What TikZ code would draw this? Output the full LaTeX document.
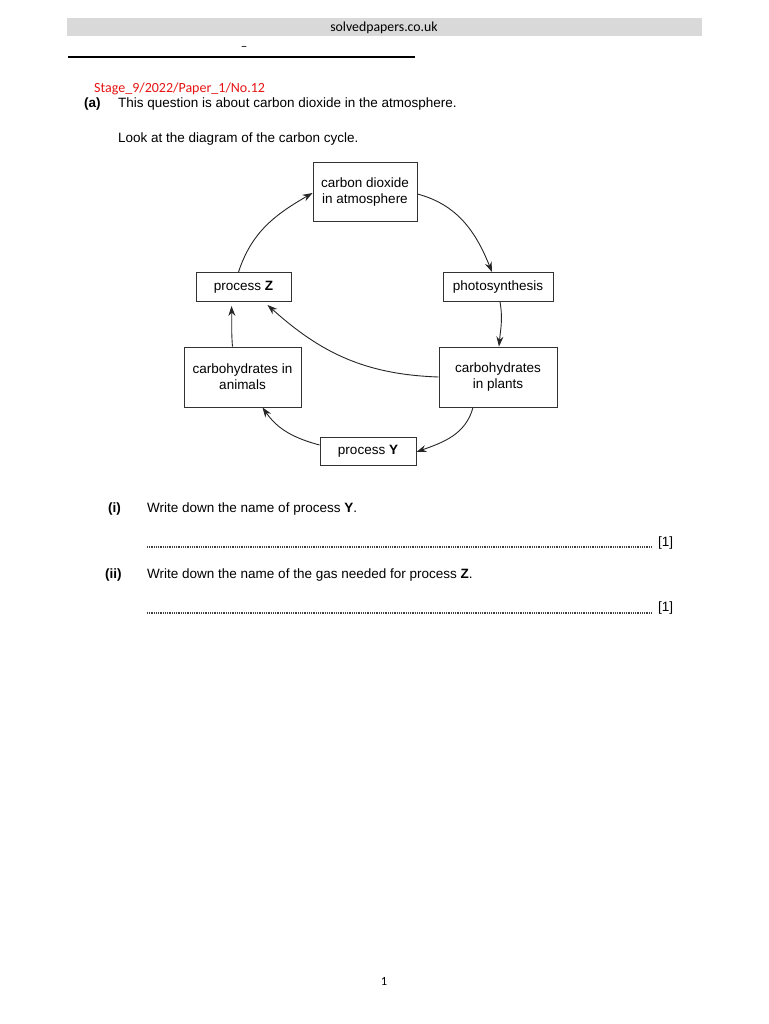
\documentclass[tikz,border=0pt]{standalone}
\usepackage{fontspec}
\setmainfont{Liberation Sans}
\newfontfamily\calibri{Carlito}
\usetikzlibrary{arrows.meta}
\definecolor{headgray}{RGB}{217,217,217}
\definecolor{boxline}{RGB}{50,50,50}
\begin{document}
\begin{tikzpicture}
		[x=1pt,y=-1pt,
		cyclebox/.style={draw=boxline,line width=0.9pt,align=center,
			inner sep=0pt,font=\fontsize{13.5}{16}\selectfont},
		cyclearrow/.style={draw=black!85,line width=0.9pt,
			-{Stealth[length=10pt,width=7pt]}},
		qtext/.style={anchor=base west,inner sep=0pt,
			font=\fontsize{13.5}{16}\selectfont},
		answerline/.style={line width=1.2pt,black!75,
			dash pattern=on 0.9pt off 0.9pt}]
		\useasboundingbox (0,0) rectangle (768,1024);
		\fill[white] (0,0) rectangle (768,1024);
		% header
		\fill[headgray] (67,18) rectangle (702,36);
		\node[anchor=base,inner sep=0pt,font=\calibri\fontsize{13.8}{15}\selectfont]
			(site) at (384,32) {solvedpapers.co.uk};
		\node[anchor=base,inner sep=0pt,font=\calibri\fontsize{13}{15}\selectfont]
			(dash) at (244,51) {\textendash};
		\draw[line width=1.8pt] (68,57) -- (415,57);
		\node[qtext,font=\calibri\fontsize{14}{16}\selectfont,text={rgb,255:red,230;green,20;blue,20}]
			(ref) at (94,93) {Stage\_9/2022/Paper\_1/No.12};
		% question text
		\node[qtext,font=\bfseries\fontsize{13.5}{16}\selectfont] (parta) at (84,108) {(a)};
		\node[qtext] (intro) at (118,108) {This question is about carbon dioxide in the atmosphere.};
		\node[qtext] (look) at (118,143) {Look at the diagram of the carbon cycle.};
		% carbon cycle
		\node[cyclebox,minimum width=104pt,minimum height=59pt] (co2) at (365,192)
			{carbon dioxide\\in atmosphere};
		\node[cyclebox,minimum width=110pt,minimum height=29pt] (photo) at (498,287)
			{photosynthesis};
		\node[cyclebox,minimum width=95pt,minimum height=29pt] (procZ) at (243.5,287)
			{process \textbf{Z}};
		\node[cyclebox,minimum width=117pt,minimum height=60pt] (animals) at (242.5,377)
			{carbohydrates in\\animals};
		\node[cyclebox,minimum width=118pt,minimum height=60pt] (plants) at (498,377)
			{carbohydrates\\in plants};
		\node[cyclebox,minimum width=96pt,minimum height=28pt] (procY) at (368,451)
			{process \textbf{Y}};
		\draw[cyclearrow] ([yshift=-2pt]co2.east) to[out=-15,in=112] ([xshift=-6pt]photo.north);
		\draw[cyclearrow] ([xshift=2pt]photo.south) to[out=-80,in=85] ([xshift=1pt]plants.north);
		\draw[cyclearrow] ([xshift=-25pt]plants.south) to[out=-105,in=20] ([yshift=-1pt]procY.east);
		\draw[cyclearrow] ([yshift=6pt]procY.west) to[out=165,in=-55] ([xshift=20pt]animals.south);
		\draw[cyclearrow] ([xshift=-10pt]animals.north) to[out=95,in=-88] ([xshift=-12pt,yshift=-4pt]procZ.south);
		\draw[cyclearrow] ([xshift=-5pt]procZ.north) to[out=72,in=-150] ([yshift=-1pt]co2.west);
		\draw[cyclearrow] (plants.west) to[out=178,in=-42] ([xshift=24pt,yshift=-3pt]procZ.south);
		% questions
		\node[qtext,font=\bfseries\fontsize{13.5}{16}\selectfont] (parti) at (108,512) {(i)};
		\node[qtext] (qi) at (147,512) {Write down the name of process \textbf{Y}.};
		\coordinate (ai start) at (147,547);
		\coordinate (ai end) at (652,547);
		\draw[answerline] (ai start) -- (ai end);
		\node[qtext] (marki) at (658,546) {[1]};
		\node[qtext,font=\bfseries\fontsize{13.5}{16}\selectfont] (partii) at (105,578) {(ii)};
		\node[qtext] (qii) at (147,578) {Write down the name of the gas needed for process \textbf{Z}.};
		\coordinate (aii start) at (147,613);
		\coordinate (aii end) at (652,613);
		\draw[answerline] (aii start) -- (aii end);
		\node[qtext] (markii) at (658,611) {[1]};
		% page number
		\node[anchor=base,inner sep=0pt,font=\calibri\fontsize{12.5}{14}\selectfont]
			(page) at (384,985) {1};
	\end{tikzpicture}
\end{document}
